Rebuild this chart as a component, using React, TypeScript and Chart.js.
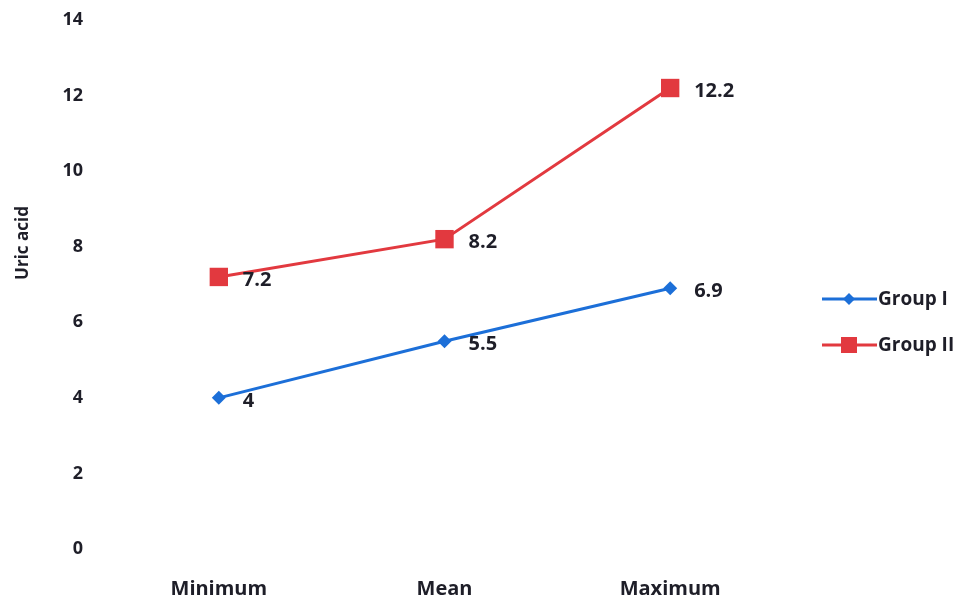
import React, { useEffect, useRef } from "react";
import { Chart, registerables } from "chart.js";

Chart.register(...registerables);

const categories = ["Minimum", "Mean", "Maximum"];
const groupI = [4, 5.5, 6.9];
const groupII = [7.2, 8.2, 12.2];
const yTicks = [0, 2, 4, 6, 8, 10, 12, 14];
const yTitle = "Uric acid";

const BLUE = "#1c6fd8";
const RED = "#e2393f";
const TEXT = "#1e1e28";
const FONT = "'Open Sans', sans-serif";

const labelPlugin = {
  id: "valueLabels",
  afterDatasetsDraw(chart: any) {
    const ctx = chart.ctx;
    ctx.save();
    ctx.font = `bold 20px ${FONT}`;
    ctx.fillStyle = TEXT;
    ctx.textAlign = "left";
    ctx.textBaseline = "middle";
    chart.data.datasets.forEach((ds: any, i: number) => {
      const meta = chart.getDatasetMeta(i);
      meta.data.forEach((pt: any, j: number) => {
        ctx.fillText(String(ds.data[j]), pt.x + 24, pt.y + 3);
      });
    });
    ctx.restore();
  },
};

const decorPlugin = {
  id: "decor",
  afterDraw(chart: any) {
    const ctx = chart.ctx;
    ctx.save();
    // y-axis title
    ctx.translate(23, 243);
    ctx.rotate(-Math.PI / 2);
    ctx.fillStyle = TEXT;
    ctx.font = `bold 17px ${FONT}`;
    ctx.textAlign = "center";
    ctx.textBaseline = "middle";
    ctx.fillText(yTitle, 0, 0);
    ctx.restore();

    ctx.save();
    const items = [
      { label: chart.data.datasets[0].label, color: BLUE, style: "diamond", r: 6, y: 299 },
      { label: chart.data.datasets[1].label, color: RED, style: "rect", r: 8, y: 345 },
    ];
    items.forEach((it) => {
      ctx.strokeStyle = it.color;
      ctx.lineWidth = 3;
      ctx.beginPath();
      ctx.moveTo(822, it.y);
      ctx.lineTo(877, it.y);
      ctx.stroke();
      ctx.fillStyle = it.color;
      if (it.style === "rect") {
        ctx.fillRect(849 - it.r, it.y - it.r, it.r * 2, it.r * 2);
      } else {
        ctx.beginPath();
        ctx.moveTo(849, it.y - it.r);
        ctx.lineTo(849 + it.r, it.y);
        ctx.lineTo(849, it.y + it.r);
        ctx.lineTo(849 - it.r, it.y);
        ctx.closePath();
        ctx.fill();
      }
      ctx.fillStyle = TEXT;
      ctx.font = `bold 19px ${FONT}`;
      ctx.textAlign = "left";
      ctx.textBaseline = "middle";
      ctx.fillText(it.label, 878, it.y + 1);
    });
    ctx.restore();
  },
};

export default function App() {
  const ref = useRef<HTMLCanvasElement>(null);
  useEffect(() => {
    document.body.style.margin = "0";
    const chart = new Chart(ref.current!, {
      type: "line",
      data: {
        labels: categories,
        datasets: [
          {
            label: "Group I",
            data: groupI,
            borderColor: BLUE,
            backgroundColor: BLUE,
            borderWidth: 3,
            pointStyle: "rectRot",
            pointRadius: 7,
            pointBorderWidth: 0,
          },
          {
            label: "Group II",
            data: groupII,
            borderColor: RED,
            backgroundColor: RED,
            borderWidth: 3,
            pointStyle: "rect",
            pointRadius: 13,
            pointBorderWidth: 0,
          },
        ],
      },
      options: {
        animation: false,
        responsive: false,
        layout: { padding: { top: 20, right: 183, bottom: 0, left: 0 } },
        plugins: { legend: { display: false }, tooltip: { enabled: false } },
        scales: {
          x: {
            offset: true,
            grid: { display: false, drawTicks: false },
            border: { display: false },
            ticks: {
              padding: 28,
              color: TEXT,
              font: { family: FONT, size: 20, weight: "bold" },
            },
            afterFit: (s: any) => {
              s.height = 61;
              s.paddingLeft = 0;
              s.paddingRight = 0;
            },
          },
          y: {
            min: 0,
            max: 14,
            afterBuildTicks: (s: any) => {
              s.ticks = yTicks.map((v) => ({ value: v }));
            },
            grid: { display: false, drawTicks: false },
            border: { display: false },
            ticks: {
              padding: 23,
              color: TEXT,
              font: { family: FONT, size: 18, weight: "bold" },
            },
            afterFit: (s: any) => {
              s.width = 106;
              s.paddingTop = 0;
              s.paddingBottom = 0;
            },
          },
        },
      },
      plugins: [labelPlugin, decorPlugin],
    });
    return () => chart.destroy();
  }, []);
  return (
    <div style={{ width: 966, height: 610 }}>
      <canvas ref={ref} width={966} height={610} />
    </div>
  );
}
